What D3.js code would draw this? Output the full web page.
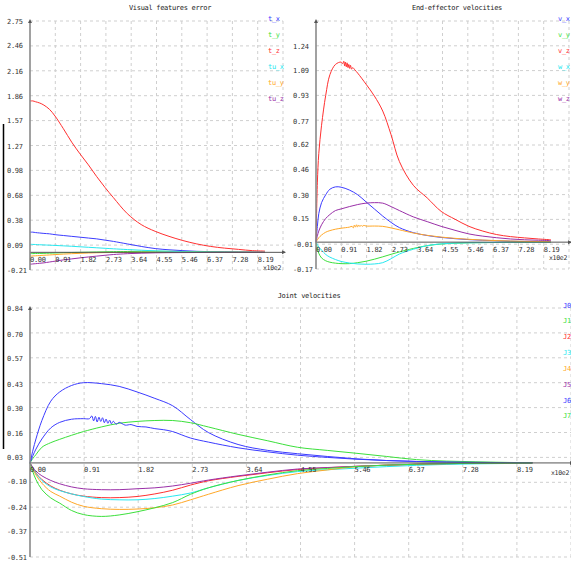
<!DOCTYPE html>
<html>
<head>
<meta charset="utf-8">
<script src="https://cdn.jsdelivr.net/npm/d3@7"></script>
<style>
  body { margin: 0; background: #fff; }
  text { font-family: "DejaVu Sans Mono", monospace; font-size: 7px; letter-spacing: -0.3px; }
</style>
</head>
<body>
<script>
const WIDTH = 571;
const HEIGHT = 561;

// iterations where the curves were sampled
const ITER = [0, 5, 10, 20, 35, 50, 70, 90, 120, 150, 180, 210, 240, 270, 300, 350, 400, 450, 500, 550, 600, 650, 700, 750, 800, 845];

// x tick labels (x10e2), same on the three plots
const xTickLabels = ["0.00", "0.91", "1.82", "2.73", "3.64", "4.55", "5.46", "6.37", "7.28", "8.19"];

// Visual features error
const errLabels = ["-0.21", "0.09", "0.38", "0.68", "0.98", "1.27", "1.57", "1.86", "2.16", "2.46", "2.75"];
const errNames = ["t_x", "t_y", "t_z", "tu_x", "tu_y", "tu_z"];
const tX  = [0.24, 0.24, 0.24, 0.235, 0.23, 0.225, 0.22, 0.21, 0.20, 0.19, 0.18, 0.17, 0.16, 0.145, 0.13, 0.10, 0.07, 0.045, 0.03, 0.02, 0.012, 0.008, 0.005, 0.003, 0.002, 0.001];
const tY  = [-0.015, -0.015, -0.015, -0.014, -0.013, -0.012, -0.01, -0.008, -0.005, -0.002, 0.0, 0.002, 0.004, 0.006, 0.008, 0.01, 0.012, 0.013, 0.012, 0.01, 0.008, 0.006, 0.004, 0.003, 0.002, 0.001];
const tZ  = [1.80, 1.80, 1.80, 1.79, 1.775, 1.75, 1.70, 1.62, 1.47, 1.31, 1.17, 1.04, 0.90, 0.77, 0.65, 0.46, 0.33, 0.25, 0.19, 0.14, 0.10, 0.07, 0.05, 0.035, 0.02, 0.015];
const tuX = [0.095, 0.095, 0.094, 0.093, 0.09, 0.088, 0.085, 0.082, 0.077, 0.072, 0.066, 0.06, 0.054, 0.048, 0.042, 0.033, 0.025, 0.018, 0.012, 0.008, 0.005, 0.003, 0.002, 0.001, 0.0, 0.0];
const tuY = [-0.045, -0.044, -0.043, -0.041, -0.038, -0.035, -0.031, -0.027, -0.021, -0.016, -0.012, -0.008, -0.005, -0.003, -0.002, -0.001, 0, 0, 0, 0, 0, 0, 0, 0, 0, 0];
const tuZ = [-0.14, -0.14, -0.138, -0.135, -0.13, -0.125, -0.115, -0.105, -0.09, -0.078, -0.066, -0.055, -0.045, -0.035, -0.026, -0.016, -0.01, -0.006, -0.004, -0.003, -0.002, -0.001, 0, 0, 0, 0];

// End-effector velocities
const velLabels = ["-0.17", "-0.01", "0.15", "0.30", "0.46", "0.62", "0.77", "0.93", "1.09", "1.24"];
const velNames = ["v_x", "v_y", "v_z", "w_x", "w_y", "w_z"];
const vX = [0, 0.1, 0.18, 0.25, 0.30, 0.335, 0.35, 0.348, 0.33, 0.30, 0.255, 0.21, 0.165, 0.125, 0.092, 0.06, 0.042, 0.03, 0.022, 0.016, 0.012, 0.009, 0.006, 0.004, 0.003, 0.002];
const vY = [0, -0.04, -0.07, -0.1, -0.118, -0.127, -0.133, -0.136, -0.136, -0.13, -0.121, -0.108, -0.093, -0.077, -0.062, -0.04, -0.022, -0.012, -0.007, -0.004, -0.003, -0.002, -0.001, -0.001, 0, 0];
// v_z is noisy near its peak, so it has its own denser sampling
const vZIter = [0, 5, 10, 20, 35, 50, 70, 90, 96, 100, 103, 106, 109, 112, 115, 118, 121, 124, 128, 132, 140, 150, 180, 210, 240, 270, 300, 350, 400, 450, 500, 550, 600, 650, 700, 750, 800, 845];
const vZ = [0, 0.38, 0.56, 0.74, 0.93, 1.06, 1.125, 1.14, 1.13, 1.145, 1.115, 1.14, 1.11, 1.135, 1.105, 1.125, 1.1, 1.12, 1.095, 1.105, 1.09, 1.07, 1.00, 0.925, 0.83, 0.68, 0.51, 0.36, 0.28, 0.195, 0.145, 0.10, 0.07, 0.048, 0.035, 0.027, 0.02, 0.015];
const wX = [0, -0.015, -0.03, -0.05, -0.078, -0.095, -0.11, -0.122, -0.132, -0.138, -0.14, -0.138, -0.13, -0.105, -0.075, -0.045, -0.022, -0.011, -0.006, -0.004, -0.003, -0.002, -0.001, 0, 0, 0];
const wYIter = [0, 5, 10, 20, 35, 50, 70, 90, 120, 130, 134, 138, 142, 146, 150, 154, 158, 162, 166, 172, 180, 210, 240, 270, 300, 350, 400, 450, 500, 550, 600, 650, 700, 750, 800, 845];
const wY = [0, 0.015, 0.028, 0.045, 0.063, 0.073, 0.082, 0.088, 0.095, 0.1, 0.09, 0.108, 0.095, 0.11, 0.097, 0.108, 0.099, 0.107, 0.1, 0.106, 0.102, 0.102, 0.10, 0.09, 0.078, 0.058, 0.043, 0.032, 0.024, 0.018, 0.013, 0.01, 0.007, 0.005, 0.004, 0.003];
const wZ = [0, 0.04, 0.07, 0.11, 0.15, 0.175, 0.20, 0.21, 0.225, 0.238, 0.247, 0.25, 0.247, 0.225, 0.20, 0.16, 0.13, 0.10, 0.075, 0.052, 0.038, 0.028, 0.02, 0.015, 0.012, 0.01];

// Joint velocities
const jointLabels = ["-0.51", "-0.37", "-0.24", "-0.10", "0.03", "0.16", "0.30", "0.43", "0.57", "0.70", "0.84"];
const jointNames = ["J0", "J1", "J2", "J3", "J4", "J5", "J6", "J7"];
const j0 = [0, 0.07, 0.13, 0.23, 0.335, 0.385, 0.42, 0.435, 0.43, 0.415, 0.385, 0.35, 0.31, 0.235, 0.165, 0.1, 0.068, 0.05, 0.035, 0.022, 0.013, 0.008, 0.005, 0.003, 0.002, 0.001];
const j1 = [0, 0.025, 0.045, 0.085, 0.11, 0.128, 0.15, 0.17, 0.195, 0.215, 0.225, 0.23, 0.23, 0.218, 0.195, 0.155, 0.12, 0.085, 0.068, 0.052, 0.035, 0.018, 0.01, 0.006, 0.003, 0.001];
const j2 = [0, -0.03, -0.055, -0.09, -0.125, -0.148, -0.168, -0.18, -0.188, -0.188, -0.182, -0.168, -0.148, -0.12, -0.097, -0.073, -0.053, -0.036, -0.026, -0.018, -0.012, -0.007, -0.004, -0.002, -0.001, 0];
const j3 = [0, -0.03, -0.057, -0.095, -0.13, -0.15, -0.168, -0.182, -0.196, -0.2, -0.2, -0.193, -0.18, -0.163, -0.135, -0.095, -0.068, -0.047, -0.037, -0.028, -0.02, -0.013, -0.008, -0.005, -0.003, -0.001];
const j4 = [0, -0.035, -0.065, -0.11, -0.155, -0.18, -0.213, -0.235, -0.248, -0.252, -0.25, -0.243, -0.228, -0.2, -0.17, -0.123, -0.088, -0.058, -0.038, -0.02, -0.012, -0.007, -0.004, -0.002, -0.001, 0];
const j5 = [0, -0.025, -0.045, -0.07, -0.095, -0.113, -0.13, -0.14, -0.145, -0.145, -0.14, -0.135, -0.125, -0.11, -0.093, -0.07, -0.05, -0.033, -0.025, -0.018, -0.012, -0.007, -0.004, -0.002, -0.001, 0];
// J6 has a noisy stretch after its peak
const j6Iter = [0, 5, 10, 20, 35, 50, 70, 90, 100, 104, 107, 110, 113, 116, 119, 122, 125, 128, 131, 134, 137, 140, 145, 150, 160, 170, 180, 195, 210, 225, 240, 270, 300, 350, 400, 450, 500, 550, 600, 650, 700, 750, 800, 845];
const j6 = [0, 0.04, 0.075, 0.13, 0.19, 0.22, 0.237, 0.24, 0.24, 0.255, 0.228, 0.252, 0.222, 0.248, 0.225, 0.245, 0.218, 0.238, 0.215, 0.232, 0.212, 0.226, 0.21, 0.22, 0.205, 0.208, 0.198, 0.195, 0.186, 0.18, 0.17, 0.135, 0.113, 0.082, 0.06, 0.042, 0.03, 0.02, 0.013, 0.008, 0.005, 0.003, 0.002, 0.001];
const j7 = [0, -0.05, -0.09, -0.145, -0.19, -0.218, -0.258, -0.28, -0.29, -0.282, -0.265, -0.243, -0.215, -0.17, -0.135, -0.095, -0.065, -0.042, -0.03, -0.019, -0.012, -0.007, -0.004, -0.002, -0.001, 0];

const COLORS6 = ["#3c3cff", "#3ce03c", "#ff3030", "#28e8f0", "#ffa828", "#9a30a8"];
const COLORS8 = ["#3c3cff", "#3ce03c", "#ff3030", "#28e8f0", "#ffa828", "#9a30a8", "#3c3cff", "#3ce03c"];

const svg = d3.select("body")
  .append("svg")
    .attr("width", WIDTH)
    .attr("height", HEIGHT);

svg.append("rect").attr("width", WIDTH).attr("height", HEIGHT).attr("fill", "#fff");

// black bar on the left edge
svg.append("line")
  .attr("x1", 3.5).attr("x2", 3.5)
  .attr("y1", 124).attr("y2", 449)
  .attr("stroke", "#000").attr("stroke-width", 1.5);

function drawPlot(p) {
  let xScale = d3.scaleLinear().domain([0, 910]).range([p.left, p.right]);
  let yScale = d3.scaleLinear().domain(p.yDomain).range([p.bottom, p.top]);
  let g = svg.append("g");

  // grid
  let step = (p.yDomain[1] - p.yDomain[0]) / 10;
  g.selectAll(".hgrid")
    .data(d3.range(11))
    .enter()
    .append("line")
      .attr("x1", p.left).attr("x2", p.right)
      .attr("y1", d => yScale(p.yDomain[0] + d * step))
      .attr("y2", d => yScale(p.yDomain[0] + d * step))
      .attr("stroke", "#cfcfcf").attr("stroke-dasharray", "3,3");

  g.selectAll(".vgrid")
    .data(d3.range(1, 11))
    .enter()
    .append("line")
      .attr("x1", d => xScale(d * 91)).attr("x2", d => xScale(d * 91))
      .attr("y1", p.top).attr("y2", p.bottom)
      .attr("stroke", "#cfcfcf").attr("stroke-dasharray", "3,3");

  // curves: each entry is [iterations, values]
  p.series.forEach((s, i) => {
    let iters = s[0];
    g.append("path")
      .datum(s[1])
      .attr("fill", "none")
      .attr("stroke", p.colors[i])
      .attr("stroke-width", 1)
      .attr("d", d3.line()
        .x((d, k) => xScale(iters[k]))
        .y(d => yScale(d))
        .curve(d3.curveCatmullRom.alpha(0.5)));
  });

  // axes
  let y0 = yScale(0);
  g.append("line")
    .attr("x1", p.left).attr("x2", p.right + 2)
    .attr("y1", y0).attr("y2", y0)
    .attr("stroke", "#555").attr("stroke-width", 1);
  g.append("path")
    .attr("d", "M" + (p.right + 3) + "," + y0 + "l-4,-2l0,4z")
    .attr("fill", "#555");

  g.append("line")
    .attr("x1", p.left).attr("x2", p.left)
    .attr("y1", p.bottom).attr("y2", p.top)
    .attr("stroke", "#8a8a8a").attr("stroke-width", 1.6);
  g.append("path")
    .attr("d", "M" + p.left + "," + (p.top - 2) + "l-2,4l4,0z")
    .attr("fill", "#555");

  // tick labels
  g.selectAll(".ylab")
    .data(p.yLabels)
    .enter()
    .append("text")
      .attr("x", p.left - 23)
      .attr("y", d => yScale(+d) + 3)
      .attr("fill", "#333")
      .text(d => d);

  g.selectAll(".xlab")
    .data(xTickLabels)
    .enter()
    .append("text")
      .attr("x", (d, i) => xScale(i * 91))
      .attr("y", y0 + 9.5)
      .attr("fill", "#333")
      .text(d => d);

  g.append("text")
    .attr("x", p.right - 20)
    .attr("y", y0 + p.unitDy)
    .attr("fill", "#333")
    .style("font-size", "6.5px")
    .text("x10e2");

  g.append("text")
    .attr("x", p.titleX).attr("y", p.titleY)
    .attr("text-anchor", "middle")
    .attr("fill", "#222")
    .text(p.title);

  // legend
  g.selectAll(".leg")
    .data(p.names)
    .enter()
    .append("text")
      .attr("x", p.legendX)
      .attr("y", (d, i) => p.legendY + i * p.legendStep)
      .attr("fill", (d, i) => p.colors[i])
      .text(d => d);
}

drawPlot({
  left: 30, right: 283, top: 21, bottom: 270,
  yDomain: [-0.21, 2.75], yLabels: errLabels,
  series: [[ITER, tX], [ITER, tY], [ITER, tZ], [ITER, tuX], [ITER, tuY], [ITER, tuZ]],
  names: errNames, colors: COLORS6,
  title: "Visual features error", titleX: 170, titleY: 10,
  legendX: 268, legendY: 20.5, legendStep: 16, unitDy: 17.5
});

drawPlot({
  left: 316, right: 569, top: 21, bottom: 269,
  yDomain: [-0.17, 1.40], yLabels: velLabels,
  series: [[ITER, vX], [ITER, vY], [vZIter, vZ], [ITER, wX], [wYIter, wY], [ITER, wZ]],
  names: velNames, colors: COLORS6,
  title: "End-effector velocities", titleX: 457, titleY: 10,
  legendX: 558, legendY: 20.5, legendStep: 16, unitDy: 17.5
});

drawPlot({
  left: 30, right: 571, top: 308, bottom: 557,
  yDomain: [-0.51, 0.84], yLabels: jointLabels,
  series: [[ITER, j0], [ITER, j1], [ITER, j2], [ITER, j3], [ITER, j4], [ITER, j5], [j6Iter, j6], [ITER, j7]],
  names: jointNames, colors: COLORS8,
  title: "Joint velocities", titleX: 309, titleY: 297.5,
  legendX: 563, legendY: 307.5, legendStep: 15.85, unitDy: 12
});
</script>
</body>
</html>
